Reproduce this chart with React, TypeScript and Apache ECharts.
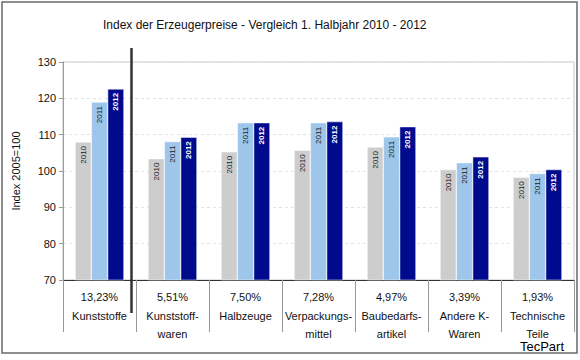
import React, { useEffect, useRef } from "react";
import * as echarts from "echarts";

const titleText = "Index der Erzeugerpreise - Vergleich 1. Halbjahr 2010 - 2012";
const categories = [
  "Kunststoffe",
  "Kunststoff-\nwaren",
  "Halbzeuge",
  "Verpackungs-\nmittel",
  "Baubedarfs-\nartikel",
  "Andere K-\nWaren",
  "Technische\nTeile",
];
const changes = ["13,23%", "5,51%", "7,50%", "7,28%", "4,97%", "3,39%", "1,93%"];
const years = ["2010", "2011", "2012"];
const values2010 = [108.0, 103.4, 105.3, 105.7, 106.6, 100.4, 98.3];
const values2011 = [119.0, 108.1, 113.3, 113.3, 109.4, 102.3, 99.3];
const values2012 = [122.6, 109.3, 113.3, 113.6, 112.2, 103.9, 100.4];
const yTicks = { min: 70, max: 130, interval: 10 };

const FONT = "'Liberation Sans', Arial, sans-serif";

export default function App() {
  const ref = useRef<HTMLDivElement>(null);

  useEffect(() => {
    document.body.style.margin = "0";
    if (!ref.current) return;
    const chart = echarts.init(ref.current, null, { renderer: "svg" });

    const colors = ["#cdcdcd", "#9dc6ea", "#000a8c"];
    const labelColors = ["#1a1a1a", "#1a1a1a", "#ffffff"];
    const seriesData = [values2010, values2011, values2012];

    chart.setOption({
      animation: false,
      backgroundColor: "#ffffff",
      textStyle: { fontFamily: FONT },
      title: {
        text: titleText,
        left: 98,
        top: 14,
        textStyle: { fontSize: 12, fontWeight: "normal", color: "#111", fontFamily: FONT },
      },
      grid: {
        left: 63,
        right: 6,
        top: 62,
        bottom: 80,
        show: true,
        borderColor: "#c4c4c4",
        borderWidth: 1,
      },
      xAxis: {
        type: "category",
        data: categories,
        axisLine: { lineStyle: { color: "#333", width: 1 } },
        axisTick: {
          show: true,
          interval: 0,
          length: 52,
          lineStyle: { color: "#999" },
        },
        axisLabel: {
          interval: 0,
          margin: 7,
          fontSize: 11,
          color: "#111",
          formatter: (v: string, i: number) => {
            const parts = v.split("\n").map((s) => `{n|${s}}`).join("\n");
            return `{p|${changes[i]}}\n${parts}`;
          },
          rich: {
            p: { fontSize: 11, color: "#111", lineHeight: 20, fontFamily: FONT },
            n: { fontSize: 11, color: "#111", lineHeight: 18, fontFamily: FONT },
          },
        },
      },
      yAxis: {
        type: "value",
        min: yTicks.min,
        max: yTicks.max,
        interval: yTicks.interval,
        name: "Index 2005=100",
        nameLocation: "middle",
        nameRotate: 90,
        nameGap: 42,
        nameTextStyle: { fontSize: 11, color: "#111" },
        axisLine: { show: true, lineStyle: { color: "#999" } },
        axisTick: { show: true, length: 4, lineStyle: { color: "#999" } },
        axisLabel: { fontSize: 11, color: "#111", margin: 7 },
        splitLine: { lineStyle: { color: "#e2e2e2", type: [3, 3] } },
      },
      series: years.map((y, k) => ({
        name: y,
        type: "bar",
        data: seriesData[k],
        barGap: "0%",
        barCategoryGap: "33%",
        itemStyle: { color: colors[k], borderColor: "#ffffff", borderWidth: 0.5 },
        label: {
          show: true,
          formatter: y,
          position: "insideTop",
          rotate: 90,
          align: "right",
          verticalAlign: "middle",
          distance: 4,
          fontSize: 8,
          fontWeight: k === 2 ? "bold" : "normal",
          color: labelColors[k],
        },
      })),
    });

    const c0 = chart.convertToPixel({ xAxisIndex: 0 }, 0) as number;
    const c1 = chart.convertToPixel({ xAxisIndex: 0 }, 1) as number;
    const boundary = (c0 + c1) / 2;

    chart.setOption({
      graphic: [
        {
          type: "rect",
          shape: { x: 2, y: 2, width: 575, height: 351 },
          style: { fill: "none", stroke: "#6a6a6a", lineWidth: 1.5 },
          silent: true,
          z: 100,
        },
        {
          type: "line",
          shape: { x1: boundary - 4.5, y1: 48, x2: boundary - 4.5, y2: 313 },
          style: { stroke: "#333", lineWidth: 2.5 },
          z: 100,
        },
        {
          type: "text",
          right: 16,
          top: 340,
          style: {
            text: "{a|Tec}{b|Part}",
            rich: {
              a: { fontSize: 13, color: "#a9abb4", fontFamily: FONT },
              b: { fontSize: 13, color: "#4c5270", fontFamily: FONT },
            },
          },
          z: 100,
        },
      ],
    });

    return () => chart.dispose();
  }, []);

  return <div ref={ref} style={{ width: 580, height: 360 }} />;
}
